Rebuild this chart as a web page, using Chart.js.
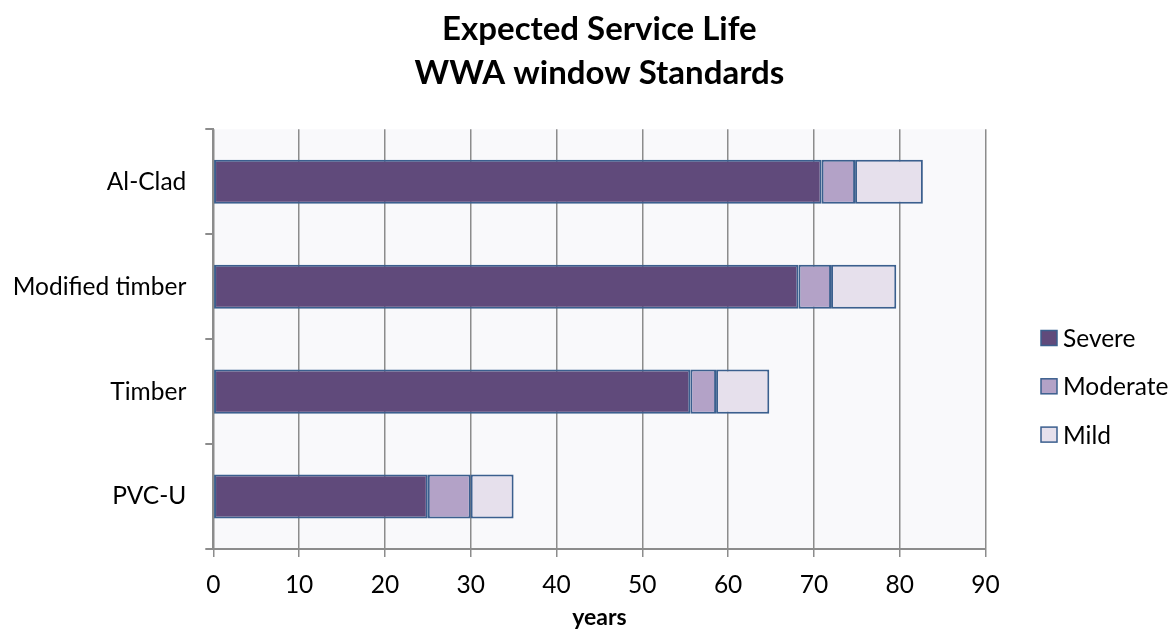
<!DOCTYPE html>
<html>
<head>
<meta charset="utf-8">
<script src="https://cdn.jsdelivr.net/npm/chart.js@4.4.1/dist/chart.umd.min.js"></script>
<style>
  html, body { margin: 0; padding: 0; background: #ffffff; }
  #wrap { width: 1173px; height: 635px; }
</style>
</head>
<body>
<div id="wrap"><canvas id="c" width="1173" height="635"></canvas></div>
<script>
const categories = ['Al-Clad', 'Modified timber', 'Timber', 'PVC-U'];
const severe   = [70.9, 68.2, 55.6, 25.0];
const moderate = [3.9, 3.8, 3.0, 5.0];
const mild     = [7.9, 7.6, 6.2, 5.0];
const seriesNames = ['Severe', 'Moderate', 'Mild'];
const titleLines = ['Expected Service Life', 'WWA window Standards'];
const axisTitle = 'years';
const xMin = 0, xMax = 90, xStep = 10;

const FONT = 'Lato';
const GRID = '#8c8c8c';
const EDGE = '#3b5f8e';
const COLORS = ['#604a7b', '#b3a2c7', '#e6e0ec'];

const plotBg = {
  id: 'plotBg',
  beforeDraw(chart) {
    const {ctx, chartArea: a} = chart;
    ctx.save();
    ctx.fillStyle = '#f9f9fb';
    ctx.fillRect(a.left, a.top, a.right - a.left, a.bottom - a.top);
    ctx.restore();
  }
};

const sideLegend = {
  id: 'sideLegend',
  afterDraw(chart) {
    const {ctx, chartArea: a} = chart;
    ctx.save();
    chart.data.datasets.forEach((ds, i) => {
      const cy = 338 + i * 48.3;
      const bx = a.right + 55.5;
      ctx.fillStyle = ds.backgroundColor;
      ctx.fillRect(bx, cy - 7.5, 16, 15);
      ctx.strokeStyle = EDGE;
      ctx.lineWidth = 1.5;
      ctx.strokeRect(bx, cy - 7.5, 16, 15);
      ctx.fillStyle = '#000';
      ctx.font = '24.5px ' + FONT;
      ctx.textBaseline = 'middle';
      ctx.textAlign = 'left';
      ctx.fillText(ds.label, bx + 22, cy + 1);
    });
    ctx.restore();
  }
};

const datasets = [severe, moderate, mild].map((vals, i) => ({
  label: seriesNames[i],
  data: vals,
  backgroundColor: COLORS[i],
  borderColor: EDGE,
  borderWidth: 2,
  borderSkipped: false,
  categoryPercentage: 1.0,
  barPercentage: 0.42
}));

new Chart(document.getElementById('c'), {
  type: 'bar',
  data: { labels: categories, datasets },
  plugins: [plotBg, sideLegend],
  options: {
    indexAxis: 'y',
    responsive: false,
    animation: false,
    devicePixelRatio: 1,
    layout: { padding: { left: 0, right: 187.5, top: 0, bottom: 0 } },
    plugins: {
      legend: { display: false },
      tooltip: { enabled: false },
      title: {
        display: true,
        fullSize: false,
        text: titleLines,
        color: '#000',
        font: { family: FONT, size: 33, weight: 'bold', lineHeight: 1.315 },
        padding: { top: 8, bottom: 34.5 }
      }
    },
    scales: {
      x: {
        stacked: true,
        min: xMin, max: xMax,
        ticks: { stepSize: xStep, color: '#000', font: { family: FONT, size: 24.5 }, padding: 13 },
        grid: { color: GRID, lineWidth: 1.5, tickLength: 8, drawTicks: true },
        border: { color: GRID, width: 2 },
        title: { display: true, text: axisTitle, color: '#000', font: { family: FONT, size: 23, weight: 'bold' }, padding: { top: 0, bottom: 4 } },
        afterFit(s) { s.height = 86; }
      },
      y: {
        stacked: true,
        ticks: { color: '#000', font: { family: FONT, size: 24.5 }, padding: 19 },
        grid: { offset: true, drawOnChartArea: false, drawTicks: true, tickLength: 8, color: GRID, lineWidth: 2 },
        border: { color: GRID, width: 2 },
        afterFit(s) { s.width = 213.3; }
      }
    }
  }
});
</script>
</body>
</html>
